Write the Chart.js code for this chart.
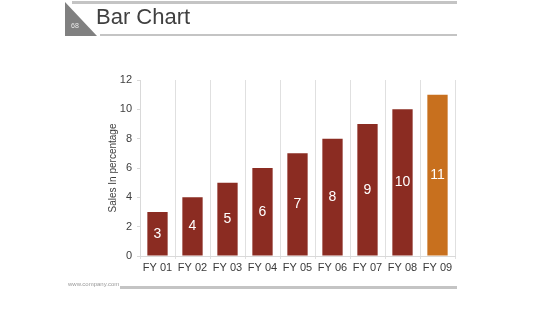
<!DOCTYPE html>
<html>
<head>
<meta charset="utf-8">
<script src="https://cdn.jsdelivr.net/npm/chart.js@4/dist/chart.umd.min.js"></script>
<style>
  html, body { margin: 0; padding: 0; background: #fff; }
  body { width: 560px; height: 315px; position: relative; overflow: hidden; font-family: "Liberation Sans", Arial, sans-serif; }
  .topline { position: absolute; left: 72px; top: 1px; width: 385px; height: 3px; background: #c4c4c4; }
  .botline { position: absolute; left: 100px; top: 34px; width: 357px; height: 2px; background: #c4c4c4; }
  .tri { position: absolute; left: 65px; top: 2px; width: 0; height: 0;
         border-left: 32px solid transparent; border-top: 0; border-bottom: 34px solid #808080;
         transform: scaleX(-1); transform-origin: 16px 0; }
  .num { position: absolute; left: 71px; top: 22px; font-size: 7px; color: #e8e8e8; }
  .title { position: absolute; left: 96px; top: 4px; font-size: 22px; color: #404040; }
  .foot { position: absolute; left: 68px; top: 281px; font-size: 6px; color: #999; }
  .footline { position: absolute; left: 120px; top: 286px; width: 337px; height: 3px; background: #c4c4c4; }
  #wrap { position: absolute; left: 0; top: 0; width: 560px; height: 315px; }
</style>
</head>
<body>
<div id="wrap"><canvas id="barChart"></canvas></div>
<div class="topline"></div>
<div class="tri"></div>
<div class="num">68</div>
<div class="title">Bar Chart</div>
<div class="botline"></div>
<div class="foot">www.company.com</div>
<div class="footline"></div>
<script>
const categories = ['FY 01', 'FY 02', 'FY 03', 'FY 04', 'FY 05', 'FY 06', 'FY 07', 'FY 08', 'FY 09'];
const sales = [3, 4, 5, 6, 7, 8, 9, 10, 11];
const barColors = ['#8b2c22', '#8b2c22', '#8b2c22', '#8b2c22', '#8b2c22', '#8b2c22', '#8b2c22', '#8b2c22', '#c8701e'];
const yTicks = [0, 2, 4, 6, 8, 10, 12];

// labels in the middle of each bar
const centerLabels = {
    id: 'centerLabels',
    afterDatasetsDraw(chart) {
        const ctx = chart.ctx;
        const meta = chart.getDatasetMeta(0);
        ctx.save();
        ctx.fillStyle = '#ffffff';
        ctx.font = '14px "Liberation Sans", Arial, sans-serif';
        ctx.textAlign = 'center';
        ctx.textBaseline = 'middle';
        meta.data.forEach((bar, i) => {
            ctx.fillText(String(sales[i]), bar.x, (bar.y + bar.base) / 2);
        });
        ctx.restore();
    }
};

const ctx = document.getElementById('barChart').getContext('2d');
const chart = new Chart(ctx, {
    type: 'bar',
    data: {
        labels: categories,
        datasets: [{
            label: 'Sales',
            data: sales,
            backgroundColor: barColors,
            barPercentage: 0.58,
            categoryPercentage: 1
        }]
    },
    options: {
        responsive: true,
        maintainAspectRatio: false,
        animation: { duration: 0 },
        layout: { padding: { left: 107, right: 105, top: 80, bottom: 39 } },
        scales: {
            x: {
                afterFit: (s) => { s.height = 20; },
                border: { color: '#d9d9d9' },
                grid: { color: '#e0e0e0', tickLength: 3, offset: true },
                ticks: { color: '#3a3a3a', font: { size: 11, family: '"Liberation Sans", Arial, sans-serif' }, padding: 2, maxRotation: 0 }
            },
            y: {
                min: 0,
                max: 12,
                afterFit: (s) => { s.width = 33; },
                afterBuildTicks: (s) => { s.ticks = yTicks.map(v => ({ value: v })); },
                border: { color: '#d9d9d9' },
                grid: { drawOnChartArea: false, color: '#d9d9d9', tickLength: 3 },
                ticks: { color: '#404040', font: { size: 11, family: '"Liberation Sans", Arial, sans-serif' }, padding: 5 },
                title: {
                    display: true,
                    text: 'Sales In percentage',
                    color: '#404040',
                    font: { size: 10, family: '"Liberation Sans", Arial, sans-serif' },
                    padding: 0
                }
            }
        },
        plugins: {
            legend: { display: false },
            tooltip: { enabled: false }
        }
    },
    plugins: [centerLabels]
});
</script>
</body>
</html>
